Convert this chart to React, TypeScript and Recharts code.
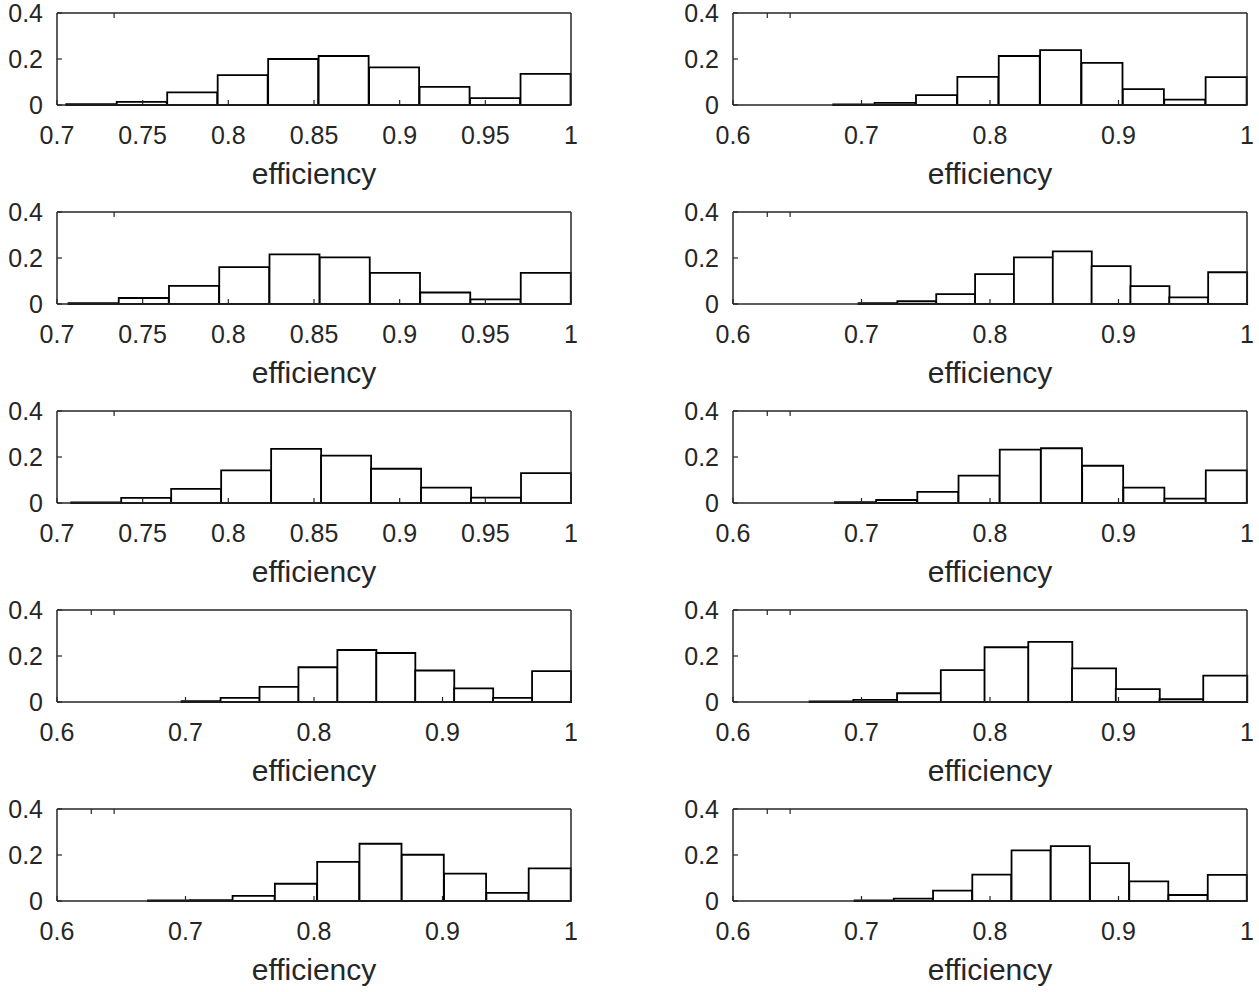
import React from 'react';
import { ComposedChart, Bar, XAxis, YAxis } from 'recharts';

// bar heights (relative frequency), panels listed row by row, left then right
const heightsL1 = [0.004, 0.014, 0.055, 0.13, 0.2, 0.213, 0.164, 0.079, 0.03, 0.135];
const heightsR1 = [0.003, 0.009, 0.043, 0.122, 0.213, 0.239, 0.183, 0.069, 0.023, 0.121];
const heightsL2 = [0.004, 0.026, 0.079, 0.16, 0.216, 0.203, 0.135, 0.05, 0.02, 0.135];
const heightsR2 = [0.004, 0.012, 0.043, 0.13, 0.203, 0.229, 0.165, 0.078, 0.029, 0.138];
const heightsL3 = [0.003, 0.022, 0.061, 0.142, 0.235, 0.206, 0.149, 0.067, 0.023, 0.13];
const heightsR3 = [0.004, 0.013, 0.048, 0.119, 0.232, 0.238, 0.162, 0.067, 0.019, 0.142];
const heightsL4 = [0.004, 0.018, 0.066, 0.151, 0.226, 0.213, 0.137, 0.059, 0.018, 0.134];
const heightsR4 = [0.003, 0.009, 0.038, 0.139, 0.238, 0.261, 0.146, 0.056, 0.012, 0.115];
const heightsL5 = [0.003, 0.004, 0.022, 0.075, 0.17, 0.249, 0.201, 0.119, 0.035, 0.142];
const heightsR5 = [0.003, 0.01, 0.045, 0.115, 0.22, 0.239, 0.165, 0.085, 0.026, 0.114];

// first bin edge and bin width of each panel (same order)
const binStart = [0.7054, 0.678, 0.7067, 0.6977, 0.7083, 0.6793, 0.697, 0.6596, 0.6708, 0.6946];
const binWidth = [0.02946, 0.0322, 0.02933, 0.03023, 0.02917, 0.03207, 0.0303, 0.03404, 0.03292, 0.03054];

const ticksFine = [0.7, 0.75, 0.8, 0.85, 0.9, 0.95, 1];
const ticksCoarse = [0.6, 0.7, 0.8, 0.9, 1];
const yTicks = [0, 0.2, 0.4];

const allHeights = [heightsL1, heightsR1, heightsL2, heightsR2, heightsL3, heightsR3, heightsL4, heightsR4, heightsL5, heightsR5];

const INK = '#262626';
const TICK_LEN = 5;

// MATLAB style: tick marks point into the plot box
const BottomTick = ({ x, y, payload }: any) => (
  <g>
    <line x1={x} y1={y} x2={x} y2={y - TICK_LEN} stroke={INK} strokeWidth={1.2} />
    <text x={x} y={y + 21} dy="0.71em" textAnchor="middle" fill={INK} fontSize={25}>
      {String(payload.value)}
    </text>
  </g>
);
const TopTick = ({ x, y }: any) => (
  <line x1={x} y1={y} x2={x} y2={y + TICK_LEN} stroke={INK} strokeWidth={1.2} />
);
const LeftTick = ({ x, y, payload }: any) => (
  <g>
    <line x1={x} y1={y} x2={x + TICK_LEN} y2={y} stroke={INK} strokeWidth={1.2} />
    <text x={x - 14} y={y} dy="0.355em" textAnchor="end" fill={INK} fontSize={25}>
      {String(payload.value)}
    </text>
  </g>
);
const RightTick = ({ x, y }: any) => (
  <line x1={x} y1={y} x2={x - TICK_LEN} y2={y} stroke={INK} strokeWidth={1.2} />
);

const Panel = ({ idx }: { idx: number }) => {
  const col = idx % 2;
  const row = Math.floor(idx / 2);
  const fine = col === 0 && row < 3;
  const domain = fine ? [0.7, 1] : [0.6, 1];
  const ticks = fine ? ticksFine : ticksCoarse;
  const data = allHeights[idx].map((h, i) => ({
    x: binStart[idx] + binWidth[idx] * (i + 0.5),
    h,
  }));

  return (
    <div style={{ position: 'absolute', left: col === 0 ? 0 : 676, top: row * 199 }}>
      <ComposedChart
        width={580}
        height={192}
        data={data}
        margin={{ top: 12, right: 8, left: 0, bottom: 8 }}
        barCategoryGap={0}
        barGap={0}
      >
        <XAxis
          dataKey="x"
          type="number"
          domain={domain}
          ticks={ticks}
          height={79}
          tickSize={0}
          tickMargin={0}
          axisLine={{ stroke: INK, strokeWidth: 1.5 }}
          tickLine={false}
          tick={<BottomTick />}
          label={{ value: 'efficiency', position: 'insideBottom', offset: 0, fill: INK, fontSize: 30 }}
        />
        <XAxis
          xAxisId="t"
          orientation="top"
          type="number"
          domain={domain}
          ticks={ticks}
          height={1}
          tickSize={0}
          tickMargin={0}
          axisLine={{ stroke: INK, strokeWidth: 1.5 }}
          tickLine={false}
          tick={<TopTick />}
        />
        <YAxis
          type="number"
          domain={[0, 0.4]}
          ticks={yTicks}
          width={57}
          tickSize={0}
          tickMargin={0}
          axisLine={{ stroke: INK, strokeWidth: 1.5 }}
          tickLine={false}
          tick={<LeftTick />}
        />
        <YAxis
          yAxisId="r"
          orientation="right"
          type="number"
          domain={[0, 0.4]}
          ticks={yTicks}
          width={1}
          tickSize={0}
          tickMargin={0}
          axisLine={{ stroke: INK, strokeWidth: 1.5 }}
          tickLine={false}
          tick={<RightTick />}
        />
        <Bar dataKey="h" fill="#ffffff" stroke="#000000" strokeWidth={1.8} isAnimationActive={false} />
      </ComposedChart>
    </div>
  );
};

export default function App() {
  return (
    <div
      style={{
        position: 'absolute',
        left: 0,
        top: 0,
        width: 1259,
        height: 992,
        background: '#ffffff',
        fontFamily: '"Liberation Sans", Arial, Helvetica, sans-serif',
      }}
    >
      {allHeights.map((_, i) => (
        <Panel key={i} idx={i} />
      ))}
    </div>
  );
}
